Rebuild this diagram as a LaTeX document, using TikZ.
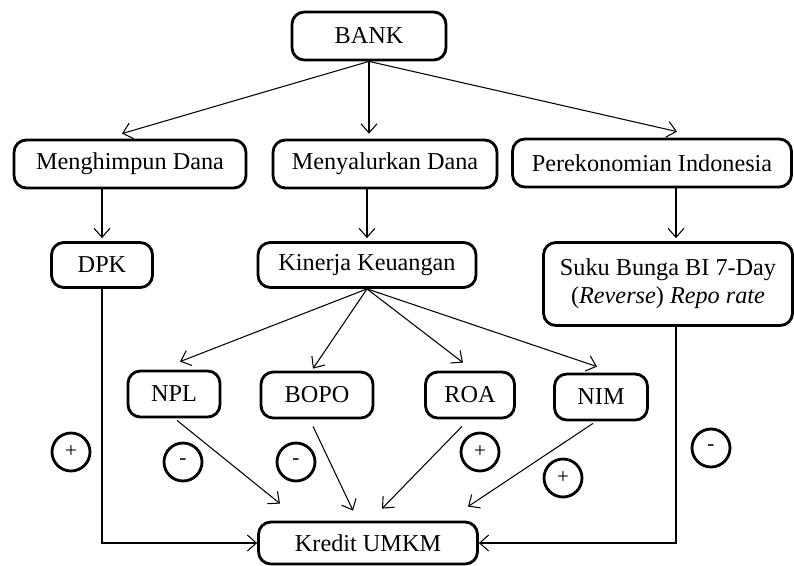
\documentclass[tikz,border=0pt]{standalone}
\usepackage{fontspec}
\setmainfont{Liberation Serif}
\usepackage{tikz}
\usetikzlibrary{positioning, calc}
\usetikzlibrary{arrows.meta}

\tikzset{
  kotak/.style={draw, line width=1.6pt, rounded corners=7pt, inner sep=2pt,
    minimum height=0.96cm, align=center, font=\fontsize{13.8}{16}\selectfont},
  tanda/.style={draw, circle, line width=1.6pt, minimum size=0.76cm, inner sep=0pt,
    font=\fontsize{12}{14}\selectfont},
  panah/.style={line width=0.6pt, -{Straight Barb[length=1.8mm,width=3.2mm]}}
}

\begin{document}
\begin{tikzpicture}[x=0.02cm, y=-0.02cm]
                \useasboundingbox (0,0) rectangle (794,565);
                % kotak-kotak
                \node[kotak, minimum width=3.08cm] (bank) at (369,36) {BANK};
                \node[kotak, minimum width=4.64cm] (hdana) at (130,164) {Menghimpun Dana};
                \node[kotak, minimum width=4.48cm] (salur) at (385,164) {Menyalurkan Dana};
                \node[kotak, minimum width=5.58cm] (ekon) at (652,163) {Perekonomian Indonesia};
                \node[kotak, minimum width=2.02cm, minimum height=0.9cm] (dpk) at (102,265) {DPK};
                \node[kotak, minimum width=4.36cm, minimum height=0.9cm] (kinerja) at (367,265) {Kinerja Keuangan};
                \node[kotak, minimum width=4.98cm, minimum height=1.66cm] (suku) at (668,284) {Suku Bunga BI 7-Day\\(\textit{Reverse}) \textit{Repo rate}};
                \node[kotak, minimum width=1.84cm, minimum height=0.92cm] (npl) at (174,394) {NPL};
                \node[kotak, minimum width=2.24cm, minimum height=0.92cm] (bopo) at (317,395) {BOPO};
                \node[kotak, minimum width=1.78cm, minimum height=0.92cm] (roa) at (470,395) {ROA};
                \node[kotak, minimum width=1.86cm, minimum height=0.92cm] (nim) at (601,397) {NIM};
                \node[kotak, minimum width=4.38cm, minimum height=0.84cm] (kredit) at (368,543) {Kredit UMKM};
                % tanda pengaruh
                \node[tanda] (t1) at (71,452) {+};
                \node[tanda] (t2) at (183,462) {-};
                \node[tanda] (t3) at (296,462) {-};
                \node[tanda] (t4) at (480,452) {+};
                \node[tanda] (t5) at (563,478) {+};
                \node[tanda] (t6) at (711,448) {-};
                % panah dari BANK
                \draw[panah] (bank.south) -- ([xshift=-0.16cm,yshift=0.1cm]hdana.north);
                \draw[panah] (bank.south) -- ([yshift=0.1cm]bank.south |- salur.north);
                \draw[panah] (bank.south) -- ([xshift=0.5cm,yshift=0.12cm]ekon.north);
                \draw[panah] (dpk.north |- hdana.south) -- ([yshift=0.06cm]dpk.north);
                \draw[panah] (kinerja.north |- salur.south) -- ([yshift=0.06cm]kinerja.north);
                \draw[panah] ([xshift=0.16cm]suku.north |- ekon.south) -- ([xshift=0.16cm,yshift=0.06cm]suku.north);
                % kinerja keuangan
                \draw[panah] (kinerja.south) -- ([xshift=0.12cm,yshift=0.16cm]npl.north);
                \draw[panah] (kinerja.south) -- ([xshift=-0.08cm,yshift=0.04cm]bopo.north);
                \draw[panah] (kinerja.south) -- ([xshift=-0.14cm,yshift=0.16cm]roa.north);
                \draw[panah] (kinerja.south) -- ([xshift=-0.08cm,yshift=0.12cm]nim.north);
                % ke kredit UMKM
                \draw[panah] ([xshift=0.06cm,yshift=-0.04cm]npl.south) -- ([xshift=-1.76cm,yshift=0.34cm]kredit.north);
                \draw[panah] ([xshift=-0.08cm,yshift=-0.14cm]bopo.south) -- ([xshift=-0.3cm,yshift=0.2cm]kredit.north);
                \draw[panah] ([xshift=-0.16cm,yshift=-0.14cm]roa.south) -- ([xshift=0.28cm,yshift=0.24cm]kredit.north);
                \draw[panah] ([xshift=-0.16cm,yshift=-0.04cm]nim.south) -- ([xshift=2cm,yshift=0.28cm]kredit.north);
                \draw[panah] (dpk.south) |- (kredit.west);
                \draw[panah] ([xshift=0.16cm]suku.south) |- (kredit.east);
            \end{tikzpicture}
\end{document}
